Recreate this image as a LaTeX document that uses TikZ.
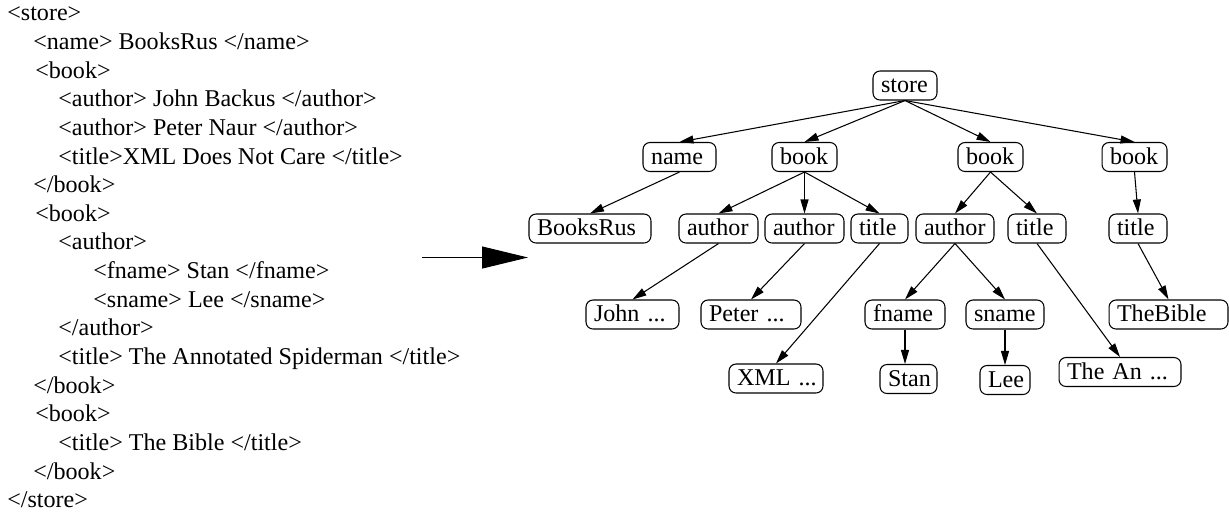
\documentclass[tikz,border=0pt]{standalone}
\usepackage{fontspec}
\setmainfont{Liberation Serif}
\usetikzlibrary{arrows.meta}

\tikzset{
	elem/.style={draw=black,line width=0.6pt,rounded corners=4pt,text width=#1,align=left,inner xsep=0.16cm,inner ysep=0pt,minimum height=0.58cm,text height=10.5pt,text depth=2.5pt},
	xmlline/.style={anchor=base west,inner sep=0pt},
	edge/.style={line width=0.6pt,-{Triangle[length=0.28cm,width=0.16cm]}}
}

\begin{document}
\begin{tikzpicture}[x=0.02cm,y=-0.02cm,font=\fontsize{13.7}{16}\selectfont]
		\useasboundingbox (0,0) rectangle (1229,512);
		\node [xmlline] (l1) at (7,20.7) {<store>};
		\node [xmlline] (l2) at (33,49.4) {<name> BooksRus </name>};
		\node [xmlline] (l3) at (35,78) {<book>};
		\node [xmlline] (l4) at (58,106.7) {<author> John Backus </author>};
		\node [xmlline] (l5) at (58,135.3) {<author> Peter Naur </author>};
		\node [xmlline] (l6) at (58,164) {<title>XML Does Not Care </title>};
		\node [xmlline] (l7) at (33,192.6) {</book>};
		\node [xmlline] (l8) at (35,221.3) {<book>};
		\node [xmlline] (l9) at (58,249.9) {<author>};
		\node [xmlline] (l10) at (93,278.6) {<fname> Stan </fname>};
		\node [xmlline] (l11) at (93,307.2) {<sname> Lee </sname>};
		\node [xmlline] (l12) at (58,335.9) {</author>};
		\node [xmlline] (l13) at (58,364.5) {<title> The Annotated Spiderman </title>};
		\node [xmlline] (l14) at (33,393.2) {</book>};
		\node [xmlline] (l15) at (35,421.8) {<book>};
		\node [xmlline] (l16) at (58,450.5) {<title> The Bible </title>};
		\node [xmlline] (l17) at (33,479.1) {</book>};
		\node [xmlline] (l18) at (7,507.8) {</store>};
		\coordinate (arrowtail) at (422,257.5);
		\coordinate (arrowtip) at (528,257.5);
		\draw [line width=0.6pt,-{Triangle[length=0.92cm,width=0.44cm]}] (arrowtail) -- (arrowtip);
		\node [elem=0.96cm] (store) at (905,85.5) {store};
		\node [elem=1.14cm] (name) at (679.5,157) {name};
		\node [elem=0.98cm] (book1) at (804.5,157) {book};
		\node [elem=0.98cm] (book2) at (990.5,157) {book};
		\node [elem=0.98cm] (book3) at (1134.5,157) {book};
		\node [elem=2.12cm] (booksrus) at (590,228.5) {BooksRus};
		\node [elem=1.26cm] (author1) at (718.5,228.5) {author};
		\node [elem=1.26cm] (author2) at (804.5,228.5) {author};
		\node [elem=0.82cm] (title1) at (879.5,228.5) {title};
		\node [elem=1.24cm] (author3) at (955,228.5) {author};
		\node [elem=0.84cm] (title2) at (1037,228.5) {title};
		\node [elem=0.84cm] (title3) at (1138,228.5) {title};
		\node [elem=1.54cm] (john) at (632.5,314.5) {John~...};
		\node [elem=1.68cm] (peter) at (751,314.5) {Peter~...};
		\node [elem=1.28cm] (fname) at (905,314.5) {fname};
		\node [elem=1.24cm] (sname) at (1005,314.5) {sname};
		\node [elem=2.06cm] (thebible) at (1168.5,314.5) {TheBible};
		\node [elem=1.56cm] (xml) at (776,378.5) {XML~...};
		\node [elem=0.82cm] (stan) at (908.5,379) {Stan};
		\node [elem=0.68cm] (lee) at (1005,380) {Lee};
		\node [elem=2.12cm] (thean) at (1120,372) {The~An~...};
		\draw [edge] (store.south) -- (name.north);
		\draw [edge] (store.south) -- (book1.north);
		\draw [edge] (store.south) -- (book2.north);
		\draw [edge] (store.south) -- (book3.north);
		\draw [edge] (name.south) -- (booksrus.north);
		\draw [edge] (book1.south) -- (author1.north);
		\draw [edge] (book1.south) -- (author2.north);
		\draw [edge] (book1.south) -- (title1.north);
		\draw [edge] (book2.south) -- (author3.north);
		\draw [edge] (book2.south) -- (title2.north);
		\draw [edge] (book3.south) -- (title3.north);
		\draw [edge] (author1.south) -- (john.north);
		\draw [edge] (author2.south) -- (peter.north);
		\draw [edge] (title1.south) -- (xml.north);
		\draw [edge] (author3.south) -- (fname.north);
		\draw [edge] (author3.south) -- (sname.north);
		\draw [edge] (title2.south) -- (thean.north);
		\draw [edge] (title3.south) -- (thebible.north);
		\draw [edge] (fname.south) -- (fname.south |- stan.north);
		\draw [edge] (sname.south) -- (lee.north);
	\end{tikzpicture}
\end{document}
